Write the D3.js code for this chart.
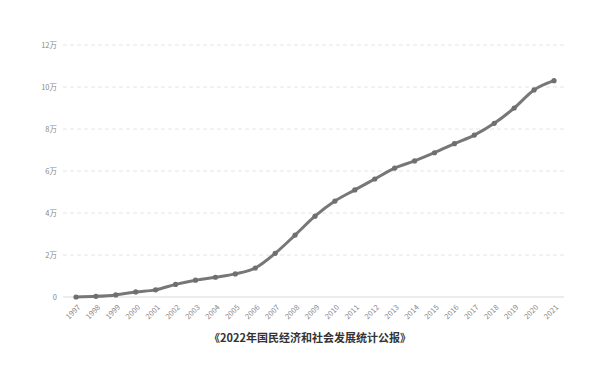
<!DOCTYPE html>
<html><head><meta charset="utf-8">
<script src="https://cdn.jsdelivr.net/npm/d3@7"></script>
<style>body{margin:0;background:#fff}svg{display:block}</style>
</head><body><svg id="c" width="600" height="390"></svg>
<script>
const years = ["1997","1998","1999","2000","2001","2002","2003","2004","2005","2006","2007","2008","2009","2010","2011","2012","2013","2014","2015","2016","2017","2018","2019","2020","2021"];
const values = [0, 0.03, 0.1, 0.24, 0.34, 0.6, 0.8, 0.94, 1.1, 1.38, 2.08, 2.95, 3.85, 4.57, 5.1, 5.62, 6.14, 6.48, 6.87, 7.3, 7.71, 8.27, 9.0, 9.86, 10.3];
const yTicks = [0, 2, 4, 6, 8, 10, 12];
const yTickLabels = ["0", "2万", "4万", "6万", "8万", "10万", "12万"];
const title = "《2022年国民经济和社会发展统计公报》";

const svg = d3.select("#c");
const x = d3.scalePoint().domain(years).range([76, 554]);
const y = d3.scaleLinear().domain([0, 12]).range([297, 45]);

// gridlines
svg.append("g").selectAll("line").data(yTicks.slice(1)).join("line")
  .attr("x1", 63).attr("x2", 564)
  .attr("y1", d => y(d)).attr("y2", d => y(d))
  .attr("stroke", "#e4e4e4").attr("stroke-width", 1).attr("stroke-dasharray", "4,3");
svg.append("line").attr("x1", 63).attr("x2", 564).attr("y1", y(0)).attr("y2", y(0))
  .attr("stroke", "#d9d9d9").attr("stroke-width", 1);

// y labels
svg.append("g").selectAll("text").data(yTicks).join("text")
  .attr("x", 57).attr("y", d => y(d)).attr("dy", "0.35em")
  .attr("text-anchor", "end").attr("font-family", "Noto Sans CJK SC, sans-serif")
  .attr("font-size", 7.5).attr("fill", "#888")
  .text((d, i) => yTickLabels[i]);

// x labels
svg.append("g").selectAll("text").data(years).join("text")
  .attr("transform", d => `translate(${x(d)+3},${y(0)+9}) rotate(-45)`)
  .attr("text-anchor", "end").attr("dy", "0.35em")
  .attr("font-family", "Noto Sans CJK SC, sans-serif")
  .attr("font-size", 7.5).attr("fill", "#888")
  .text(d => d);

// line
const line = d3.line().x((d, i) => x(years[i])).y(d => y(d)).curve(d3.curveMonotoneX);
svg.append("path").datum(values).attr("d", line)
  .attr("fill", "none").attr("stroke", "#777").attr("stroke-width", 3)
  .attr("stroke-linejoin", "round");
svg.append("g").selectAll("circle").data(values).join("circle")
  .attr("cx", (d, i) => x(years[i])).attr("cy", d => y(d)).attr("r", 2.6)
  .attr("fill", "#6f6f6f");

// title
svg.append("text").attr("x", 310).attr("y", 338).attr("dy", "0.35em")
  .attr("text-anchor", "middle").attr("font-family", "Noto Sans CJK SC, sans-serif")
  .attr("font-size", 11).attr("font-weight", "bold").attr("fill", "#333")
  .text(title);
</script></body></html>
